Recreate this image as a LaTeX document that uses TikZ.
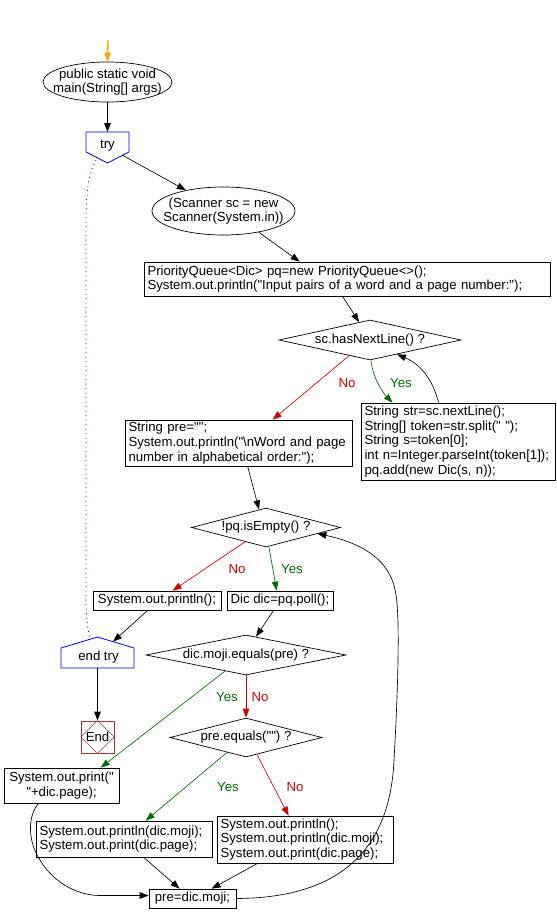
\documentclass[tikz,border=0pt]{standalone}
\usepackage{fontspec}
\setmainfont{Liberation Sans}[Ligatures=TeXOff]
\usetikzlibrary{shapes.geometric,arrows.meta,calc}
\definecolor{dkgreen}{RGB}{0,110,0}
\definecolor{myred}{RGB}{210,0,0}
\definecolor{endred}{RGB}{160,50,50}
\definecolor{orangeA}{RGB}{255,165,0}
\definecolor{tryblue}{RGB}{0,0,255}
\begin{document}
\begin{tikzpicture}[x=1pt,y=-1pt, font=\fontsize{13.2}{14.8}\selectfont,
  every node/.style={inner sep=0pt},
  arr/.style={-{Triangle[length=9pt,width=6.5pt]}, line width=0.65pt},
  thickarr/.style={-{Triangle[length=9pt,width=6.5pt]}, line width=1.4pt},
  pbox/.style={draw, rectangle, line width=0.7pt, inner xsep=3.5pt, inner ysep=0pt, align=left},
  cbox/.style={draw, rectangle, line width=0.7pt, align=center},
  dia/.style={draw, diamond, line width=0.7pt, inner sep=0pt},
  ell/.style={draw, ellipse, line width=0.7pt, inner sep=0pt},
  yeslab/.style={text=dkgreen}, nolab/.style={text=myred},
  yesarr/.style={arr, draw=dkgreen},
  noarr/.style={arr, draw=myred},
  pent/.style={draw=tryblue, line width=0.8pt}]
\useasboundingbox (0,0) rectangle (557,924);

% ellipses
\node[ell, minimum width=129pt, minimum height=40pt,
  label={[align=center]center:{public static void\\main(String[] args)}}] (e1) at (107.5,82) {};
\node[ell, minimum width=143pt, minimum height=48pt,
  label={[align=center]center:{(Scanner sc = new\\Scanner(System.in))}}] (e2) at (223.5,211) {};

% try pentagon
\node (try) at (107.5,146) {try};
\coordinate (tryT) at (107.5,132);
\coordinate (tryB) at (107.5,163);
\coordinate (tryR) at (122,155);
\draw[pent] (86,132) -- (129,132) -- (129,152) -- (tryB) -- (86,152) -- cycle;

% end try pentagon
\node (endtry) at (98.5,657) {end try};
\coordinate (etT) at (97.5,637);
\coordinate (etB) at (97.5,668);
\coordinate (etR) at (113,641.7);
\coordinate (etL) at (90,639.3);
\draw[pent] (61,668) -- (61,648) -- (etT) -- (134,648) -- (134,668) -- cycle;

% End
\node[draw=endred, line width=0.7pt, minimum width=33pt, minimum height=32pt] (End) at (97.5,737) {End};
\draw[endred, line width=0.5pt] (End.north) -- (End.east) -- (End.south) -- (End.west) -- cycle;

% boxes
\node[pbox, text width=399pt, minimum height=34pt] (b1) at (347,279)
  {PriorityQueue<Dic> pq=new PriorityQueue<>();\\System.out.println("Input pairs of a word and a page number:");};
\node[pbox, text width=220pt, minimum height=46pt] (b2) at (238.5,443)
  {String pre="";\\System.out.println("\textbackslash nWord and page\\number in alphabetical order:");};
\node[pbox, text width=187pt, minimum height=77pt] (b3) at (458,441.5)
  {String str=sc.nextLine();\\String[] token=str.split(" ");\\String s=token[0];\\int n=Integer.parseInt(token[1]);\\pq.add(new Dic(s, n));};
\node[cbox, minimum width=128pt, minimum height=19pt] (b4) at (157,600.5) {System.out.println();};
\node[cbox, minimum width=106pt, minimum height=19pt] (b5) at (280,600.5) {Dic dic=pq.poll();};
\node[cbox, minimum width=115pt, minimum height=35pt] (b6) at (61.5,785.5) {System.out.print("\\"+dic.page);};
\node[pbox, text width=169pt, minimum height=36pt] (b7) at (124,839)
  {System.out.println(dic.moji);\\System.out.print(dic.page);};
\node[pbox, text width=169pt, minimum height=47pt] (b8) at (305,839.5)
  {System.out.println();\\System.out.println(dic.moji);\\System.out.print(dic.page);};
\node[cbox, minimum width=87pt, minimum height=19pt] (b9) at (192.5,898.5) {pre=dic.moji;};

% diamonds
\node[dia, minimum width=182pt, minimum height=40pt, label=center:{sc.hasNextLine() ?}] (d1) at (370,340) {};
\node[dia, minimum width=149pt, minimum height=39pt, label=center:{!pq.isEmpty() ?}] (d2) at (266,527.5) {};
\node[dia, minimum width=200pt, minimum height=40pt, label=center:{dic.moji.equals(pre) ?}] (d3) at (246,655) {};
\node[dia, minimum width=152pt, minimum height=39pt, label=center:{pre.equals("") ?}] (d4) at (246,737.5) {};

% labels
\node[nolab] (l1) at (347,383) {No};
\node[yeslab] (l2) at (401,383) {Yes};
\node[nolab] (l3) at (237,569) {No};
\node[yeslab] (l4) at (292,569) {Yes};
\node[yeslab] (l5) at (227,697) {Yes};
\node[nolab] (l6) at (260,697) {No};
\node[yeslab] (l7) at (228,787) {Yes};
\node[nolab] (l8) at (295,787) {No};

% connectors
\coordinate (s0) at (108,40);
\draw[thickarr, draw=orangeA] (s0) -- (e1.north);
\draw[thickarr] (e1.south) -- (tryT);
\draw[arr] (tryR) -- (e2);
\draw[arr] (e2.-31) -- ($(b1.north west)+(156,0)$);
\draw[arr] ($(b1.south west)+(199,0)$) -- ($(d1.north)+(-11,2.4)$);
\draw[noarr] ($(d1.south)+(-21,-4.6)$) -- ($(b2.north west)+(148,0)$);
\draw[yesarr] ($(d1.south)+(1,0)$) .. controls (373,380) and (385,395) .. ($(b3.north west)+(32,0)$);
\draw[arr] ($(b3.north west)+(78,0)$) .. controls (432,378) and (420,364) .. ($(d1.south)+(27,-6)$);
\draw[arr] ($(b2.south west)+(123,0)$) -- ($(d2.north)+(-7,1.8)$);
\draw[noarr] ($(d2.south)+(-21,-5.5)$) -- ($(b4.north west)+(80,0)$);
\draw[yesarr] ($(d2.south)+(3,0)$) -- ($(b5.north west)+(50,0)$);
\draw[arr] ($(b4.south west)+(55,0)$) -- (etR);
\draw[arr] ($(b5.south west)+(47,0)$) -- ($(d3.north)+(10,2)$);
\draw[thickarr] (etB) -- (End.north);
\draw[yesarr] ($(d3.south)+(-21,-4.2)$) -- ($(b6.north west)+(97,0)$);
\draw[noarr, line width=0.9pt] (d3.south) -- (d4.north);
\draw[yesarr] ($(d4.south)+(-19,-4.9)$) -- ($(b7.north west)+(110,0)$);
\draw[noarr] ($(d4.south)+(11,-2.8)$) -- ($(b8.north west)+(72,0)$);
\draw[arr] ($(b6.south west)+(35,0)$) .. controls (28,815) and (27,840) .. (40,860)
  .. controls (55,885) and (80,895.5) .. (100,895.5) -- ($(b9.west)+(0,-3)$);
\draw[arr] ($(b7.south west)+(108,0)$) -- ($(b9.north west)+(31,0)$);
\draw[arr] ($(b8.south west)+(41,0)$) -- ($(b9.north west)+(63,0)$);
\draw[arr] (b9.east) .. controls (340,898) and (390,850) .. (394,760)
  .. controls (398,690) and (400,620) .. (396,595)
  .. controls (392,565) and (370,545) .. ($(d2.east)+(-23.5,6)$);
\draw[tryblue, line width=0.8pt, dash pattern=on 1pt off 3.5pt] (96,160) .. controls (88,175) and (86,195) .. (86,220)
  -- (86,600) .. controls (86,620) and (88,630) .. (etL);
\end{tikzpicture}
\end{document}
